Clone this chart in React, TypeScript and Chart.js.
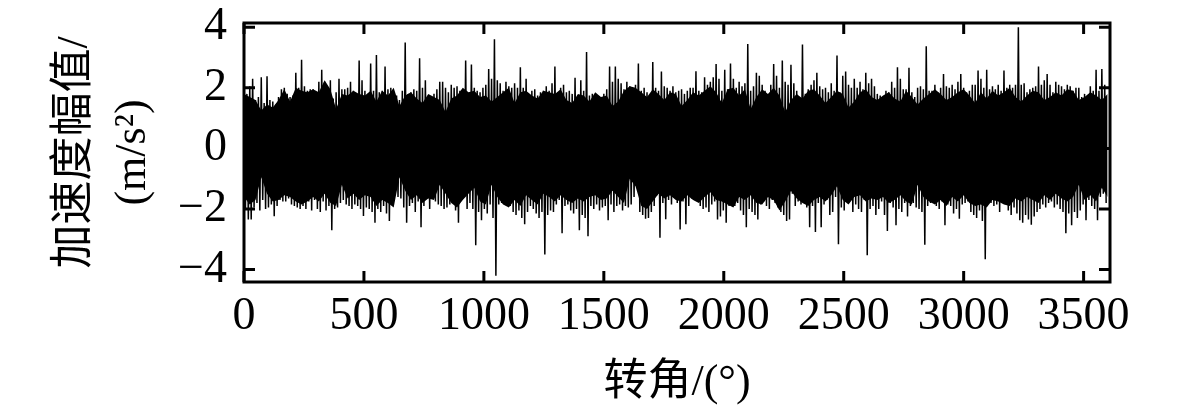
import React, { useEffect, useRef } from "react";
import { Chart, registerables } from "chart.js";

Chart.register(...registerables);

const xTickValues = [0, 500, 1000, 1500, 2000, 2500, 3000, 3500];
const yTickValues = [-4, -2, 0, 2, 4];
const peakStepDeg = 12;
const bandStepDeg = 24;

const upperPeaks = [
  1.9,1.8,2.05,2.3,1.6,1.7,2.35,1.5,2.38,1.6,
  1.55,1.45,1.7,1.95,2.0,1.8,1.7,1.75,2.5,2.0,
  2.93,2.05,1.9,1.95,1.95,1.7,2.2,2.6,2.2,2.0,
  2.25,1.65,1.85,2.3,1.95,1.95,2.0,2.2,1.9,1.6,
  2.9,2.25,1.9,1.7,2.8,1.9,3.08,1.85,1.9,2.7,
  1.95,2.0,1.8,1.75,1.6,1.9,3.5,1.8,1.85,1.95,
  1.9,2.98,2.0,2.25,1.7,1.6,1.8,1.95,2.2,2.2,
  2.0,1.85,2.1,2.0,2.05,1.9,1.85,2.9,1.7,2.77,
  2.0,1.9,1.85,2.0,2.1,2.62,2.3,3.6,2.25,2.15,
  1.9,2.2,2.05,2.0,2.15,2.0,2.68,2.0,2.3,1.6,
  1.9,1.95,1.75,1.85,1.9,2.05,1.9,2.15,2.7,1.85,
  2.0,2.1,1.85,1.9,1.8,2.33,1.75,2.25,1.9,3.18,
  1.75,1.8,1.6,1.65,1.5,1.8,1.95,2.7,2.2,2.7,
  2.3,2.15,1.95,2.2,2.05,1.95,2.1,2.8,1.9,2.0,
  1.85,1.7,2.85,2.0,1.9,2.54,2.05,2.0,1.9,2.05,
  1.85,1.9,1.95,1.8,1.9,2.0,2.0,2.55,1.9,1.85,
  2.35,2.1,2.2,2.35,2.79,2.3,1.9,2.6,1.95,2.8,
  2.3,2.0,2.2,2.05,2.15,3.45,1.9,2.05,2.5,2.4,
  2.1,1.9,1.75,2.1,2.79,2.4,2.0,2.9,2.2,2.1,
  2.76,2.15,1.9,1.6,3.43,1.8,1.95,2.1,2.25,2.5,
  2.05,1.95,2.0,1.85,2.15,1.9,3.07,1.85,2.4,2.54,
  2.1,2.0,2.3,2.0,2.2,1.95,2.5,2.15,2.3,2.05,
  1.8,1.75,1.7,1.9,1.85,2.2,2.0,2.68,2.3,1.95,
  1.95,2.66,1.85,1.7,2.0,2.05,1.95,3.37,1.9,1.9,
  2.1,1.85,2.0,2.46,2.05,2.0,2.1,1.95,2.2,2.46,
  2.0,1.85,1.9,2.1,2.1,2.57,2.3,2.0,2.6,1.95,
  2.05,1.95,2.1,1.9,2.57,2.0,2.1,2.0,2.1,4.0,
  2.1,2.15,1.85,1.95,2.0,2.05,2.7,2.1,2.25,2.46,
  2.1,1.85,2.2,2.1,2.05,1.95,2.1,2.05,1.9,2.0,
  2.0,1.7,1.8,1.6,2.05,1.9,2.6,1.9,2.62,2.1,
];

const lowerPeaks = [
  -2.0,-2.35,-2.35,-1.95,-1.8,-2.05,-1.7,-2.0,-1.95,-1.85,
  -2.24,-1.9,-1.7,-1.75,-1.75,-1.65,-1.85,-1.9,-1.95,-2.0,
  -1.9,-2.0,-1.75,-2.05,-1.7,-2.0,-2.1,-1.75,-2.05,-1.9,
  -2.7,-2.0,-1.95,-1.8,-1.7,-1.85,-1.9,-2.0,-1.85,-1.9,
  -2.0,-2.23,-1.95,-2.0,-2.1,-2.45,-2.0,-2.1,-1.9,-2.15,
  -2.4,-1.85,-1.3,-1.6,-1.65,-1.95,-2.45,-1.9,-1.8,-2.1,
  -1.75,-2.6,-1.9,-1.55,-2.0,-1.6,-1.75,-1.85,-1.9,-2.0,
  -1.95,-1.85,-1.8,-2.05,-2.45,-1.4,-1.6,-2.0,-1.8,-2.0,
  -3.2,-2.1,-2.37,-2.0,-2.15,-1.85,-2.3,-4.2,-1.85,-1.8,
  -1.8,-1.4,-1.9,-2.1,-2.2,-2.05,-2.3,-2.5,-2.1,-1.9,
  -2.0,-2.15,-2.3,-2.1,-3.5,-2.2,-2.05,-2.1,-1.85,-1.7,
  -2.8,-1.9,-1.85,-2.05,-2.15,-2.0,-2.7,-2.2,-2.3,-2.9,
  -1.9,-2.0,-1.85,-2.05,-1.95,-1.9,-2.37,-1.85,-2.1,-1.9,
  -1.85,-2.05,-1.9,-1.95,-1.85,-1.6,-1.2,-2.1,-2.2,-2.32,
  -2.3,-2.1,-1.9,-1.55,-2.95,-1.8,-2.34,-1.7,-1.85,-1.6,
  -1.8,-2.68,-1.75,-2.5,-1.9,-1.65,-1.55,-1.7,-1.9,-2.0,
  -1.95,-2.1,-1.85,-1.75,-2.35,-2.25,-2.05,-2.45,-1.9,-1.75,
  -1.9,-1.8,-2.05,-2.2,-2.6,-2.0,-2.1,-2.2,-2.35,-1.85,
  -1.75,-1.9,-2.0,-1.7,-1.8,-1.95,-2.1,-2.2,-2.4,-2.35,
  -1.5,-1.9,-1.75,-1.85,-1.7,-1.95,-2.6,-1.9,-2.76,-1.8,
  -2.6,-1.85,-1.7,-2.2,-2.1,-1.6,-3.16,-1.95,-2.05,-1.5,
  -1.65,-2.1,-1.85,-2.0,-2.1,-1.7,-3.53,-2.0,-1.9,-2.2,
  -2.0,-1.75,-2.2,-2.73,-1.8,-1.95,-2.54,-2.0,-2.1,-1.8,
  -2.25,-1.9,-1.8,-1.95,-2.0,-2.1,-3.18,-1.9,-1.8,-1.75,
  -1.9,-2.0,-1.75,-2.54,-1.85,-1.9,-2.15,-2.0,-2.32,-1.85,
  -1.8,-1.75,-2.1,-2.2,-2.3,-2.05,-2.4,-3.66,-1.75,-1.8,
  -1.9,-1.85,-2.1,-1.8,-1.75,-2.05,-2.2,-1.95,-2.15,-2.37,
  -2.45,-2.2,-2.35,-2.52,-2.25,-2.1,-2.0,-1.85,-1.95,-1.8,
  -1.75,-1.95,-1.85,-2.0,-2.1,-2.8,-2.15,-2.54,-2.1,-2.3,
  -2.05,-1.85,-2.37,-1.7,-1.9,-2.0,-2.37,-1.6,-1.5,-1.8,
];

const bandHigh = [
  1.8,1.7,1.6,1.25,1.45,1.35,1.6,1.95,1.55,2.0,
  1.9,1.85,1.95,1.85,2.25,1.95,1.3,1.8,1.75,1.9,
  1.8,1.75,1.9,1.55,1.9,1.75,2.0,1.4,1.75,1.85,
  1.65,1.5,1.8,1.7,1.6,1.2,1.65,1.75,2.0,1.85,
  1.9,1.7,1.75,1.55,1.7,1.85,2.0,1.5,1.85,1.9,
  1.75,1.65,1.9,1.85,1.8,1.95,1.6,1.5,1.8,1.75,
  1.55,1.85,1.7,1.75,1.4,1.55,1.9,2.05,2.0,1.85,
  1.7,1.95,1.8,1.6,1.85,1.8,1.4,1.6,1.85,1.75,
  1.9,2.05,1.85,1.5,1.95,2.0,1.75,1.95,1.3,1.7,
  1.95,1.8,2.0,1.75,1.2,1.6,1.8,1.65,1.9,1.95,
  1.75,1.5,1.7,1.9,1.8,1.35,1.55,1.85,1.95,1.7,
  1.6,1.75,1.85,1.65,1.55,1.9,1.7,1.45,1.65,1.8,
  1.95,1.8,1.6,1.7,1.85,1.95,1.75,1.5,1.85,1.65,
  1.9,1.75,1.85,2.0,1.7,1.55,1.75,1.9,1.85,1.6,
  1.7,1.85,1.75,1.95,1.9,1.6,1.7,1.85,1.75,1.6,1.8,
];

const bandLow = [
  -1.6,-1.85,-1.7,-0.95,-1.5,-1.75,-1.7,-1.55,-1.6,-1.75,
  -1.85,-1.75,-1.6,-1.75,-1.5,-1.8,-1.9,-1.2,-1.65,-1.5,
  -1.7,-1.55,-1.6,-1.9,-1.7,-1.8,-1.95,-0.95,-1.4,-1.7,
  -1.55,-1.8,-1.65,-1.7,-1.2,-1.5,-1.8,-1.95,-1.7,-1.5,
  -1.3,-1.75,-1.85,-1.2,-1.6,-1.85,-1.95,-1.7,-1.9,-1.55,
  -1.7,-1.85,-1.5,-1.6,-1.75,-1.55,-1.7,-1.8,-1.65,-1.75,
  -1.6,-1.55,-1.7,-1.65,-1.4,-1.6,-1.8,-1.0,-1.25,-1.9,
  -2.0,-1.75,-1.5,-1.65,-1.55,-1.7,-1.75,-1.55,-1.7,-1.8,
  -1.6,-1.45,-1.7,-1.75,-1.85,-1.95,-1.6,-1.7,-1.55,-1.8,
  -1.85,-1.6,-1.7,-2.05,-1.75,-1.4,-1.65,-1.8,-1.9,-1.7,
  -1.6,-1.75,-1.55,-1.25,-1.7,-1.85,-1.6,-1.55,-1.75,-1.65,
  -1.7,-1.6,-1.8,-1.7,-1.55,-1.75,-1.85,-1.2,-1.6,-1.75,
  -1.85,-1.7,-1.9,-1.6,-1.75,-1.55,-1.8,-1.9,-1.85,-1.95,
  -1.7,-1.75,-1.85,-1.9,-1.65,-1.75,-1.6,-1.7,-1.8,-1.55,
  -1.7,-1.5,-1.65,-1.75,-1.6,-1.2,-1.7,-1.55,-1.75,-1.3,-1.6,
];

const FONT = '"Liberation Serif", "Noto Sans CJK SC", serif';

const frameAndTicks = {
  id: "frameAndTicks",
  afterDatasetsDraw(chart: any) {
    const { ctx, chartArea: a, scales } = chart;
    const len = 11;
    ctx.save();
    ctx.strokeStyle = "#000";
    ctx.lineWidth = 3;
    ctx.beginPath();
    xTickValues.forEach((v) => {
      const x = scales.x.getPixelForValue(v);
      ctx.moveTo(x, a.bottom);
      ctx.lineTo(x, a.bottom - len);
      ctx.moveTo(x, a.top);
      ctx.lineTo(x, a.top + len);
    });
    yTickValues.forEach((v) => {
      const y = scales.y.getPixelForValue(v);
      ctx.moveTo(a.left, y);
      ctx.lineTo(a.left + len, y);
      ctx.moveTo(a.right, y);
      ctx.lineTo(a.right - len, y);
    });
    ctx.stroke();
    ctx.strokeRect(a.left, a.top, a.right - a.left, a.bottom - a.top);
    ctx.restore();
  },
};

export default function App() {
  const ref = useRef<HTMLCanvasElement>(null);
  useEffect(() => {
    const signal: { x: number; y: number }[] = [];
    upperPeaks.forEach((u, i) => {
      signal.push({ x: i * peakStepDeg, y: u });
      signal.push({ x: i * peakStepDeg + peakStepDeg / 2, y: lowerPeaks[i] });
    });
    const chart = new Chart(ref.current!, {
      type: "line",
      data: {
        datasets: [
          {
            data: bandHigh.map((y, i) => ({ x: i * bandStepDeg, y })),
            borderWidth: 0,
            pointRadius: 0,
            backgroundColor: "#000",
            fill: "+1",
          },
          {
            data: bandLow.map((y, i) => ({ x: i * bandStepDeg, y })),
            borderWidth: 0,
            pointRadius: 0,
          },
          {
            data: signal,
            borderColor: "#000",
            borderWidth: 1.5,
            pointRadius: 0,
            tension: 0,
          },
        ],
      },
      options: {
        animation: false,
        responsive: false,
        devicePixelRatio: 1,
        parsing: false,
        normalized: true,
        layout: { autoPadding: false, padding: { top: 23, right: 71, bottom: 0, left: 0 } },
        plugins: { legend: { display: false }, tooltip: { enabled: false } },
        scales: {
          x: {
            type: "linear",
            min: 0,
            max: 3610,
            grid: { display: false, drawTicks: false },
            border: { display: false },
            afterBuildTicks: (s: any) => {
              s.ticks = xTickValues.map((value) => ({ value }));
            },
            afterFit: (s: any) => {
              s.height = 127;
              s.paddingLeft = 0;
              s.paddingRight = 0;
            },
            ticks: {
              autoSkip: false,
              maxRotation: 0,
              padding: 7,
              color: "#000",
              font: { family: FONT, size: 46 },
              callback: (v: any) => String(v),
            },
            title: {
              display: true,
              text: "转角/(°)",
              color: "#000",
              font: { family: FONT, size: 44, lineHeight: 1 },
              padding: { top: 0, bottom: 4 },
            },
          },
          y: {
            type: "linear",
            min: -4.41,
            max: 4.14,
            grid: { display: false, drawTicks: false },
            border: { display: false },
            afterBuildTicks: (s: any) => {
              s.ticks = yTickValues.map((value) => ({ value }));
            },
            afterFit: (s: any) => {
              s.width = 244;
              s.paddingTop = 0;
              s.paddingBottom = 0;
            },
            ticks: {
              autoSkip: false,
              padding: 17,
              color: "#000",
              font: { family: FONT, size: 46 },
              callback: (v: any) => (v < 0 ? "\u2212" + Math.abs(v) : String(v)),
            },
            title: {
              display: true,
              text: ["加速度幅值/", "(m/s²)"],
              color: "#000",
              font: { family: FONT, size: 44, lineHeight: 1.32 },
              padding: { top: 46, bottom: 0 },
            },
          },
        },
      },
      plugins: [frameAndTicks],
    } as any);
    return () => chart.destroy();
  }, []);
  return (
    <canvas
      ref={ref}
      width={1181}
      height={409}
      style={{ position: "fixed", left: 0, top: 0, width: 1181, height: 409, display: "block" }}
    />
  );
}
